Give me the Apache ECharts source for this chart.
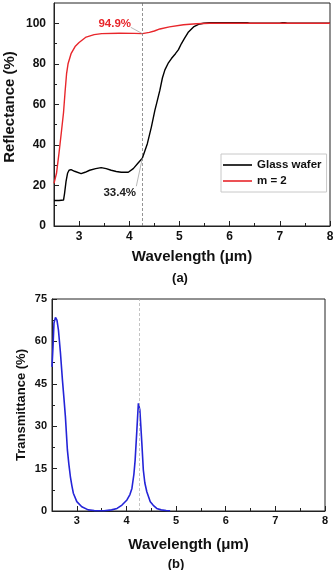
<!DOCTYPE html>
<html>
<head>
<meta charset="utf-8">
<script src="https://cdn.jsdelivr.net/npm/echarts@6/dist/echarts.min.js"></script>
<style>
  html, body { margin: 0; padding: 0; background: #fff; }
  #chart { width: 335px; height: 570px; }
</style>
</head>
<body>
<div id="chart"></div>
<script>
// 刻度
const waveTicks = [3, 4, 5, 6, 7, 8]
const waveMinor = [3.5, 4.5, 5.5, 6.5, 7.5]
const reflTicks = [0, 20, 40, 60, 80, 100]
const reflMinor = [10, 30, 50, 70, 90]
const transTicks = [0, 15, 30, 45, 60, 75]
const transMinor = [7.5, 22.5, 37.5, 52.5, 67.5]

// (a) Glass wafer
const glassX = [2.5, 2.6, 2.69, 2.71, 2.74, 2.77, 2.8, 2.84, 2.91, 3.04, 3.12, 3.21, 3.33, 3.44, 3.54, 3.64, 3.74, 3.84, 3.98, 4.08, 4.18, 4.26, 4.36, 4.44, 4.51, 4.55, 4.61, 4.66, 4.71, 4.78, 4.84, 4.92, 4.98, 5.04, 5.1, 5.18, 5.28, 5.38, 5.48, 5.6, 6.0, 6.35, 6.4, 7.0, 7.05, 7.1, 7.15, 8]
const glassY = [12.6, 12.6, 12.8, 16, 22, 26, 27.5, 27.8, 27, 25.8, 26.5, 27.5, 28.3, 28.8, 28.3, 27.5, 26.9, 26.5, 26.5, 28.3, 31.2, 33.4, 40.6, 48.8, 57, 61, 67, 73, 77, 80.5, 82.6, 85, 87, 90, 92.5, 95.7, 98.2, 99.5, 100, 100.3, 100.3, 100.3, 100, 100, 100.3, 100.3, 100, 100]

// (a) m = 2
const m2X = [2.5, 2.55, 2.6, 2.65, 2.69, 2.72, 2.75, 2.78, 2.84, 2.92, 3.0, 3.14, 3.3, 3.45, 3.8, 4.1, 4.26, 4.4, 4.5, 4.61, 4.8, 5.08, 5.34, 5.6, 8]
const m2Y = [21, 26, 36, 47, 56, 66, 75, 80, 85, 88.5, 90.5, 93.2, 94.4, 94.9, 95.1, 95, 94.9, 95.5, 96.2, 97.2, 98.2, 99.3, 99.8, 100, 100]

// (b) Transmittance
const transX = [2.5, 2.52, 2.54, 2.57, 2.6, 2.63, 2.67, 2.71, 2.74, 2.77, 2.81, 2.84, 2.87, 2.9, 2.93, 3.0, 3.1, 3.23, 3.35, 3.55, 3.7, 3.81, 3.91, 4.01, 4.07, 4.11, 4.15, 4.175, 4.21, 4.24, 4.255, 4.27, 4.29, 4.31, 4.34, 4.37, 4.41, 4.48, 4.54, 4.61, 4.7, 4.8, 4.88]
const transY = [51, 58, 66.5, 68.5, 67.5, 64, 56, 46.4, 40, 33.4, 21.6, 16.5, 12.2, 9, 6.3, 3.3, 1.5, 0.4, 0.15, 0.1, 0.4, 0.9, 2.1, 3.9, 5.8, 8, 13, 18, 28.7, 38.1, 38.5, 35.8, 30, 24, 14.5, 10, 6.8, 3.3, 2, 0.9, 0.4, 0.2, 0.1]

// 标注
const markWave = 4.26
const noteM2 = { text: '94.9%', value: 94.9, textAt: [3.71, 99.9], tail: [4.03, 98] }
const noteGlass = { text: '33.4%', value: 33.4, textAt: [3.81, 16.4], tail: [4.14, 19.6] }

const font = '"Liberation Sans", Arial, sans-serif'
const ink = '#111'
const red = '#e8262b'
const blue = '#2424d8'
const pair = (xs, ys) => xs.map((x, i) => [x, ys[i]])

function waveAxes(grid, size, margin, nameGap) {
  return [{
    type: 'value', gridIndex: grid, position: 'bottom', min: 2.5, max: 8,
    name: 'Wavelength (μm)', nameLocation: 'middle', nameGap: nameGap, nameMoveOverlap: false,
    nameTextStyle: { fontFamily: font, fontWeight: 'bold', fontSize: 15, color: ink },
    axisLine: { show: true, lineStyle: { color: '#222', width: 1 } },
    axisTick: { show: true, inside: true, length: 5, customValues: waveTicks, lineStyle: { color: '#222' } },
    axisLabel: { customValues: waveTicks, margin: margin, fontFamily: font, fontWeight: 'bold', fontSize: size, color: ink },
    splitLine: { show: false }
  }, {
    type: 'value', gridIndex: grid, position: 'bottom', min: 2.5, max: 8,
    axisLine: { show: false }, axisLabel: { show: false }, splitLine: { show: false },
    axisTick: { show: true, inside: true, length: 3, customValues: waveMinor, lineStyle: { color: '#222' } }
  }]
}

function valueAxes(grid, max, ticks, minor, name, nameSize, nameGap, namePad, size, margin) {
  return [{
    type: 'value', gridIndex: grid, position: 'left', min: 0, max: max,
    name: name, nameLocation: 'middle', nameGap: nameGap, nameMoveOverlap: false,
    nameTextStyle: { fontFamily: font, fontWeight: 'bold', fontSize: nameSize, color: ink, padding: namePad },
    axisLine: { show: true, lineStyle: { color: '#222', width: 1 } },
    axisTick: { show: true, inside: true, length: 5, customValues: ticks, lineStyle: { color: '#222' } },
    axisLabel: { customValues: ticks, margin: margin, fontFamily: font, fontWeight: 'bold', fontSize: size, color: ink },
    splitLine: { show: false }
  }, {
    type: 'value', gridIndex: grid, position: 'left', min: 0, max: max,
    axisLine: { show: false }, axisLabel: { show: false }, splitLine: { show: false },
    axisTick: { show: true, inside: true, length: 3, customValues: minor, lineStyle: { color: '#222' } }
  }]
}

function note(n, color) {
  return {
    markPoint: {
      silent: true, animation: false, symbol: 'circle', symbolSize: 1,
      itemStyle: { color: 'transparent' },
      label: { show: true, position: 'inside', formatter: n.text, color: color, fontFamily: font, fontWeight: 'bold', fontSize: 11.5 },
      data: [{ coord: n.textAt }]
    },
    leader: [{ coord: n.tail }, { coord: [markWave, n.value] }]
  }
}

let myChart = echarts.init(document.getElementById('chart'), null, { renderer: 'canvas' })
let glassNote = note(noteGlass, '#222')
let m2Note = note(noteM2, red)

let option = {
  backgroundColor: '#fff',
  animation: false,
  grid: [
    { left: 54, top: 3, width: 276, height: 223, show: true, borderColor: '#222', borderWidth: 1, outerBoundsMode: 'none' },
    { left: 52, top: 299, width: 273, height: 212, show: true, borderColor: '#222', borderWidth: 1, outerBoundsMode: 'none' }
  ],
  xAxis: [].concat(waveAxes(0, 12, 5, 23), waveAxes(1, 11, 4, 26)),
  yAxis: [].concat(
    valueAxes(0, 110, reflTicks, reflMinor, 'Reflectance (%)', 15, 37, [0, 0, 0, 15], 12, 8),
    valueAxes(1, 75, transTicks, transMinor, 'Transmittance (%)', 13, 24, [0, 0, 0, 0], 11, 5)
  ),
  legend: {
    data: ['Glass wafer', 'm = 2'],
    orient: 'vertical', left: 221, top: 154,
    padding: [5, 5, 5, 2], itemGap: 4, itemWidth: 29, itemHeight: 1.6, icon: 'rect',
    borderColor: '#c8c8c8', borderWidth: 1, backgroundColor: '#fff',
    textStyle: { fontFamily: font, fontWeight: 'bold', fontSize: 11.5, color: ink }
  },
  graphic: [
    { type: 'text', x: 180, y: 278, style: { text: '(a)', align: 'center', verticalAlign: 'middle', font: 'bold 13px ' + font, fill: ink } },
    { type: 'text', x: 176, y: 564, style: { text: '(b)', align: 'center', verticalAlign: 'middle', font: 'bold 13px ' + font, fill: ink } }
  ],
  series: [
    {
      name: 'Glass wafer', type: 'line', xAxisIndex: 0, yAxisIndex: 0,
      data: pair(glassX, glassY), symbol: 'none',
      lineStyle: { color: '#000', width: 1.4 }, itemStyle: { color: '#000' },
      markPoint: glassNote.markPoint,
      markLine: {
        silent: true, animation: false, symbol: 'none', label: { show: false },
        data: [
          { xAxis: markWave, lineStyle: { color: '#666', width: 0.7, type: [3, 2] } },
          glassNote.leader.map(p => Object.assign({ lineStyle: { color: '#999', width: 0.7, type: 'solid' } }, p))
        ]
      }
    },
    {
      name: 'm = 2', type: 'line', xAxisIndex: 0, yAxisIndex: 0,
      data: pair(m2X, m2Y), symbol: 'none',
      lineStyle: { color: red, width: 1.4 }, itemStyle: { color: red },
      markPoint: m2Note.markPoint,
      markLine: {
        silent: true, animation: false, symbol: 'none', label: { show: false },
        data: [
          m2Note.leader.map(p => Object.assign({ lineStyle: { color: '#999', width: 0.7, type: 'solid' } }, p))
        ]
      }
    },
    {
      name: 'Transmittance', type: 'line', xAxisIndex: 2, yAxisIndex: 2,
      data: pair(transX, transY), symbol: 'none',
      lineStyle: { color: blue, width: 1.6 }, itemStyle: { color: blue },
      markLine: {
        silent: true, animation: false, symbol: 'none', label: { show: false },
        data: [{ xAxis: markWave, lineStyle: { color: '#aaa', width: 0.7, type: [3, 2] } }]
      }
    }
  ]
}
myChart.setOption(option)
</script>
</body>
</html>
